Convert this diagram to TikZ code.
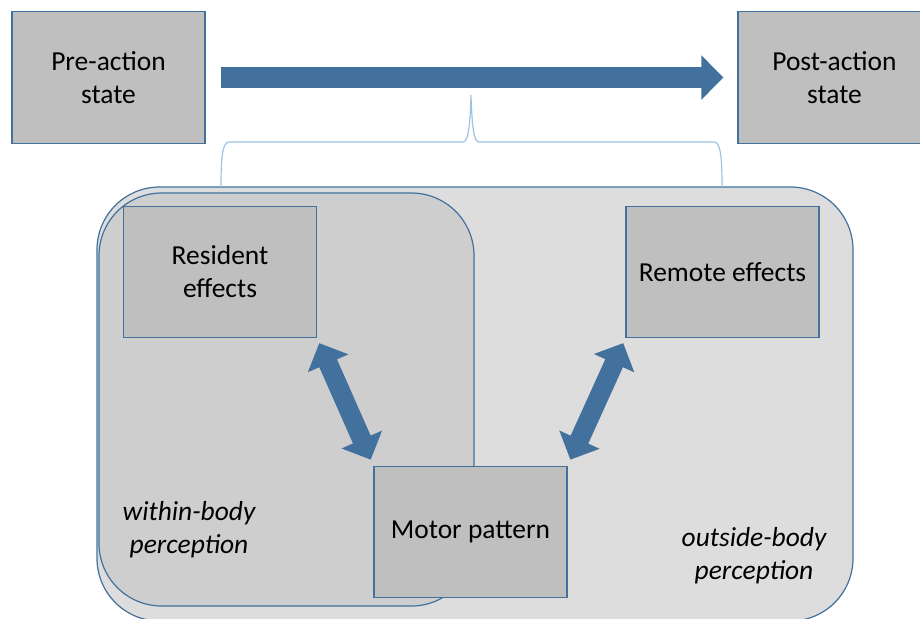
\documentclass[tikz,border=0pt]{standalone}
\usepackage{fontspec}
\setmainfont{Carlito}
\usetikzlibrary{arrows.meta}
\definecolor{boxfill}{HTML}{BFBFBF}
\definecolor{edge}{HTML}{41719C}
\definecolor{bodyfill}{HTML}{CECECE}
\definecolor{worldfill}{HTML}{DDDDDD}
\definecolor{bracecol}{HTML}{9DC3E6}
\begin{document}
\begin{tikzpicture}[x=0.75pt,y=-0.75pt,
  statebox/.style={draw=edge, line width=0.9pt, fill=boxfill,
    minimum width=144.75pt, minimum height=98.5pt, inner sep=0pt,
    align=center, font=\fontsize{20.6}{24.8}\selectfont},
  region/.style={draw=edge, line width=0.9pt, rounded corners=47pt},
  note/.style={align=center, inner sep=0pt,
    font=\fontsize{20.6}{24.8}\selectfont\itshape},
  flow/.style={draw=edge, line width=15.75pt,
    -{Triangle[length=16.5pt, width=32.25pt]}},
  link/.style={draw=edge, line width=14.5pt,
    {Triangle[length=16.5pt, width=32.25pt]}-{Triangle[length=16.5pt, width=32.25pt]}},
  bracket/.style={draw=bracecol, line width=0.9pt}]
\clip (0,0) rectangle (920,618);

% perception regions
\path[region, fill=worldfill] (97,187) rectangle (853,621);
\path[region, fill=bodyfill] (99,193) rectangle (474,606);

% states before and after the action
\node[statebox] (pre)  at (108.5,77.5) {Pre-action\\state};
\node[statebox] (post) at (834.5,77.5) {Post-action\\state};

% components of the action
\node[statebox] (res) at (220,272)   {Resident\\effects};
\node[statebox] (rem) at (722.5,272) {Remote effects};
\node[statebox] (mot) at (470.5,532) {Motor pattern};

% region labels
\node[note] (inlab)  at (189,530) {within-body\\perception};
\node[note] (outlab) at (754,556) {outside-body\\perception};

% action arrow from pre- to post-action state
\draw[flow, shorten <=11.25pt, shorten >=10.5pt] (pre.east) -- (post.west);

% bracket joining the action to the regions below
\coordinate (bl) at (221,187);
\coordinate (br) at (722,187);
\coordinate (bt) at (471,95);
\draw[bracket] (bl) .. controls (221,160) and (222,142) .. (229,142)
  -- (463,142) .. controls (468,142) and (470,128) .. (bt)
  .. controls (472,128) and (474,142) .. (479,142)
  -- (714,142) .. controls (721,142) and (722,160) .. (br);

% two-way links with the motor pattern
\draw[link, shorten <=4pt, shorten >=5pt] (res.south east) -- (mot.north west);
\draw[link, shorten <=4pt, shorten >=5pt] (rem.south west) -- (mot.north east);
\end{tikzpicture}
\end{document}
